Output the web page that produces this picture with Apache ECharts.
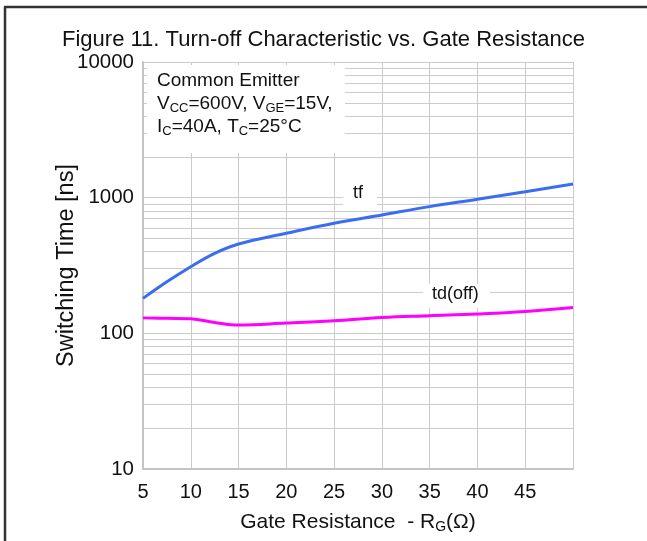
<!DOCTYPE html>
<html>
<head>
<meta charset="utf-8">
<script src="https://cdn.jsdelivr.net/npm/echarts@6/dist/echarts.min.js"></script>
<style>
html,body{margin:0;padding:0;background:#fff;overflow:hidden;}
#c{width:647px;height:541px;}
</style>
</head>
<body>
<div id="c"></div>
<script>
// ---- data ----
const rgValues = [5, 7.5, 10, 12.5, 15, 20, 25, 30, 35, 40, 45, 50];
const tfValues = [181, 240, 310, 389, 456, 547, 648, 746, 859, 973, 1107, 1262];
const tdoffValues = [130, 129, 128, 120, 115, 119, 124, 131, 135, 139, 145, 155];
const xTicks = [5, 10, 15, 20, 25, 30, 35, 40, 45];
const yMajor = [10, 100, 1000, 10000];
const yMinor = [20,30,40,50,60,70,80,90,200,300,400,500,600,700,800,900,2000,3000,4000,5000,6000,7000,8000,9000];

const font = '"Liberation Sans", Arial, sans-serif';
const grid = '#cbcbcb';

const chart = echarts.init(document.getElementById('c'), null, {renderer: 'canvas'});

function pairs(xs, ys) { return xs.map((x, i) => [x, ys[i]]); }

chart.setOption({
  animation: false,
  backgroundColor: '#fff',
  title: {
    text: 'Figure 11. Turn-off Characteristic vs. Gate Resistance',
    left: 'center', top: 24,
    textStyle: {fontFamily: font, fontSize: 22, fontWeight: 'normal', color: '#111'}
  },
  grid: {left: 143, right: 74, top: 62, bottom: 72},
  xAxis: {
    type: 'value', min: 5, max: 50, interval: 5,
    axisLine: {show: true, lineStyle: {color: '#c4c4c4', width: 2}},
    axisTick: {show: false},
    axisLabel: {
      fontFamily: font, fontSize: 20, color: '#111', margin: 13,
      formatter: v => xTicks.indexOf(v) >= 0 ? String(v) : ''
    },
    splitLine: {show: true, lineStyle: {color: grid, width: 1}},
    name: '{n|Gate Resistance  - R}{s|G}{n|(Ω)}',
    nameLocation: 'middle', nameGap: 41, nameMoveOverlap: false,
    nameTextStyle: {
      rich: {
        n: {fontFamily: font, fontSize: 21, color: '#111'},
        s: {fontFamily: font, fontSize: 14, color: '#111', verticalAlign: 'bottom', padding: [10, 0, 0, 0]}
      }
    }
  },
  yAxis: {
    type: 'log', logBase: 10, min: 10, max: 10000,
    axisLine: {show: true, lineStyle: {color: '#c4c4c4', width: 2}},
    axisTick: {show: false},
    axisLabel: {fontFamily: font, fontSize: 20.5, color: '#111', margin: 9,
      formatter: v => yMajor.indexOf(Math.round(v)) >= 0 ? String(Math.round(v)) : ''},
    splitLine: {show: true, lineStyle: {color: grid, width: 1}},
    minorTick: {show: false},
    name: 'Switching Time [ns]',
    nameLocation: 'middle', nameGap: 64, nameMoveOverlap: false,
    nameTextStyle: {fontFamily: font, fontSize: 23.5, color: '#111'}
  },
  series: [
    {
      type: 'line', data: [], silent: true,
      markLine: {
        silent: true, symbol: 'none', animation: false,
        label: {show: false},
        lineStyle: {color: grid, width: 1, type: 'solid'},
        data: yMinor.map(v => ({yAxis: v}))
      },
      z: 1
    },
    {
      name: 'tf', type: 'line', data: pairs(rgValues, tfValues),
      smooth: 0.4, showSymbol: false,
      lineStyle: {color: '#3a6df2', width: 3}, z: 5
    },
    {
      name: 'td(off)', type: 'line', data: pairs(rgValues, tdoffValues),
      smooth: 0.4, showSymbol: false,
      lineStyle: {color: '#ff00ff', width: 3}, z: 5
    }
  ],
  graphic: [
    {type: 'line', shape: {x1: 5, y1: 541, x2: 5, y2: 7},
     style: {stroke: '#333', lineWidth: 2.5}, z: 100},
    {type: 'line', shape: {x1: 4, y1: 7, x2: 647, y2: 7},
     style: {stroke: '#333', lineWidth: 2.5}, z: 100},
    {type: 'rect', shape: {x: 147, y: 65, width: 198, height: 88},
     style: {fill: '#fff'}, z: 50},
    {type: 'text', left: 157, top: 71, z: 60,
     style: {
       text: '{n|Common Emitter}\n{n|V}{s|CC}{n|=600V, V}{s|GE}{n|=15V,}\n{n|I}{s|C}{n|=40A, T}{s|C}{n|=25°C}',
       rich: {
         n: {fontFamily: font, fontSize: 19, fill: '#111', lineHeight: 23},
         s: {fontFamily: font, fontSize: 13, fill: '#111', lineHeight: 23, verticalAlign: 'bottom', padding: [8, 0, 0, 0]}
       }
     }},
    {type: 'rect', shape: {x: 343, y: 183, width: 34, height: 22}, style: {fill: '#fff'}, z: 50},
    {type: 'text', left: 353, top: 184, z: 60,
     style: {text: 'tf', fontFamily: font, fontSize: 18, fill: '#111'}},
    {type: 'rect', shape: {x: 423, y: 284, width: 67, height: 24}, style: {fill: '#fff'}, z: 50},
    {type: 'text', left: 432, top: 285, z: 60,
     style: {text: 'td(off)', fontFamily: font, fontSize: 18, fill: '#111'}}
  ]
});
</script>
</body>
</html>
